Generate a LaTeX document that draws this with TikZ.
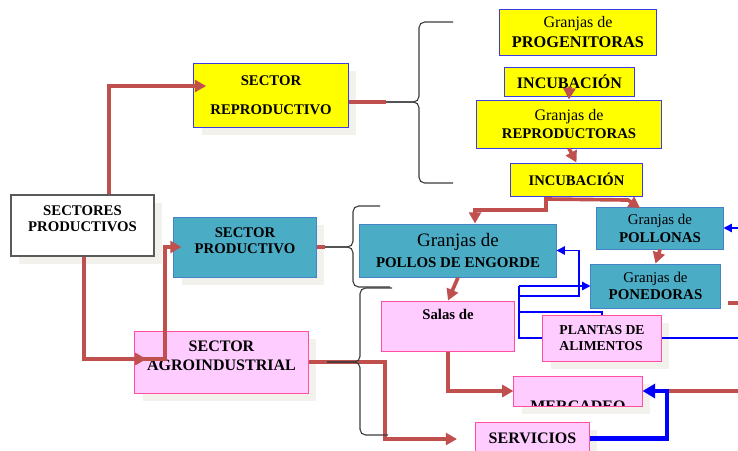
\documentclass[tikz,border=0pt]{standalone}
\usepackage{fontspec}
\setmainfont{Liberation Serif}
\usepackage{tikz}
\usepackage{tkz-euclide}
\usetikzlibrary{arrows.meta}
\usetikzlibrary{shadows}
\definecolor{accent}{RGB}{192,80,77}
\definecolor{wire}{RGB}{0,0,255}
\definecolor{yelfill}{RGB}{255,255,0}
\definecolor{yeledge}{RGB}{60,60,230}
\definecolor{tealfill}{RGB}{75,172,198}
\definecolor{tealedge}{RGB}{70,130,200}
\definecolor{pinkfill}{RGB}{255,204,255}
\definecolor{pinkedge}{RGB}{255,80,160}
\definecolor{shadowgrey}{RGB}{242,241,235}
\definecolor{bracegrey}{RGB}{60,60,60}
\definecolor{framegrey}{RGB}{90,90,90}

\begin{document}
\begin{tikzpicture}[x=0.025cm, y=-0.025cm,
  box/.style = {draw, line width=0.7pt, inner sep=0pt, align=center,
    font=\bfseries\fontsize{10.5}{12}\selectfont},
  yellowbox/.style = {box, fill=yelfill, draw=yeledge},
  tealbox/.style = {box, fill=tealfill, draw=tealedge},
  pinkbox/.style = {box, fill=pinkfill, draw=pinkedge},
  withshadow/.style = {drop shadow={shadow xshift=0.2cm, shadow yshift=-0.2cm,
    fill=shadowgrey, opacity=1}},
  line/.style = {line width=2.6pt, color=accent},
  wireline/.style = {line width=1.1pt, color=wire},
  wirearrow/.style = {wireline, -{Triangle[length=6pt, width=6pt]}},
  wirebold/.style = {line width=3.2pt, color=wire, -{Triangle[length=9pt, width=10pt]}},
  curly/.style = {line width=0.8pt, color=bracegrey, rounded corners=4pt},
  >={Triangle[length=8pt, width=8.5pt]},
]

  \useasboundingbox (0,0) rectangle (738,450);
  \clip (0,0) rectangle (738,450);

  % sectors
  \node[box, draw=framegrey, line width=1pt, fill=white, withshadow,
    minimum width=3.575cm, minimum height=1.525cm,
    text height=12.5pt, text depth=3.4pt] (sectores) at (82.5,225.5) {SECTORES\\PRODUCTIVOS};
  \node[yellowbox, withshadow, minimum width=3.85cm, minimum height=1.6cm,
    font=\bfseries\fontsize{10.5}{21}\selectfont] (repro) at (271,95) {SECTOR\\REPRODUCTIVO};
  \node[tealbox, withshadow, minimum width=3.55cm, minimum height=1.5cm,
    text height=13pt, text depth=3.2pt] (prod) at (245,247) {SECTOR\\PRODUCTIVO};
  \node[pinkbox, withshadow, minimum width=4.325cm, minimum height=1.55cm,
    text height=15pt, text depth=3.2pt,
    font=\bfseries\fontsize{11.4}{13.5}\selectfont] (agro) at (221.5,362) {SECTOR\\AGROINDUSTRIAL};

  % reproductive chain
  \node[yellowbox, minimum width=3.9cm, minimum height=1.15cm,
    font=\bfseries\fontsize{11.6}{14.2}\selectfont] (progen) at (578,32) {\textmd{\fontsize{11.4}{14}\selectfont Granjas de}\\PROGENITORAS};
  \node[yellowbox, minimum width=3.225cm, minimum height=0.725cm,
    font=\bfseries\fontsize{11.4}{13}\selectfont] (incubA) at (569.5,81.5) {INCUBACIÓN};
  \node[yellowbox, minimum width=4.6cm, minimum height=1.2cm,
    font=\bfseries\fontsize{10.5}{12.8}\selectfont] (reprod) at (569,124) {\textmd{\fontsize{11.4}{13}\selectfont Granjas de}\\REPRODUCTORAS};
  \node[yellowbox, minimum width=3.275cm, minimum height=0.825cm,
    font=\bfseries\fontsize{10.4}{12}\selectfont] (incubB) at (576.5,179.5) {INCUBACIÓN};

  % productive chain
  \node[tealbox, minimum width=4.9cm, minimum height=1.325cm,
    font=\bfseries\fontsize{10.6}{15}\selectfont] (engorde) at (458,250.5) {\textmd{\fontsize{13.5}{15}\selectfont Granjas de}\\POLLOS DE ENGORDE};
  \node[tealbox, minimum width=3.15cm, minimum height=1.05cm,
    font=\bfseries\fontsize{10.6}{12.8}\selectfont] (pollonas) at (660,228) {\textmd{Granjas de}\\POLLONAS};
  \node[tealbox, minimum width=3.225cm, minimum height=1.1cm,
    font=\bfseries\fontsize{10.6}{12.2}\selectfont] (ponedoras) at (655.5,286) {\textmd{Granjas de}\\PONEDORAS};

  % agroindustrial chain
  \node[pinkbox, minimum width=3.3cm, minimum height=1.25cm,
    text height=7pt, text depth=16pt] (salas) at (448,326) {Salas de};
  \node[pinkbox, withshadow, minimum width=2.95cm, minimum height=1.15cm, align=left,
    font=\bfseries\fontsize{9.7}{11.4}\selectfont] (plantas) at (602,338) {PLANTAS DE\\ALIMENTOS};
  \node[pinkbox, withshadow, minimum width=3.2cm, minimum height=0.75cm] (mercadeo) at (578,391) {};
  \node[pinkbox, withshadow, minimum width=2.825cm, minimum height=0.825cm,
    font=\bfseries\fontsize{11.4}{13}\selectfont] (servicios) at (532.5,438.5) {SERVICIOS};
  \begin{scope}
    \clip (mercadeo.north west) rectangle ([yshift=0.4pt]mercadeo.south east);
    \node[font=\bfseries\fontsize{11.4}{13}\selectfont] (mercadeoT) at (578,406.5) {MERCADEO};
  \end{scope}

  \tkzDefPoint(386,102){tipA}
  \tkzDefPoint(325,247){tipB}
  \tkzDefPoint(327,362){tipC}

  \tkzDefPoint(109,86){s1}
  \tkzDefPoint(84,359){s2}
  \tkzDefPoint(165,359){s3}

  \tkzDefPoint(385,362){a1}
  \tkzDefPoint(385,439){a2}
  \tkzDefPoint(457,439){a3}

  \tkzDefPoint(546,210){i1}
  \tkzDefPoint(475,210){i2}
  \tkzDefPoint(546,199){p1}
  \tkzDefPoint(628,200){p2}
  \tkzDefPoint(640,208){p3}

  \tkzDefPoint(728,303){e1}
  \tkzDefPoint(738,303){e2}
  \tkzDefPoint(667,391){m1}
  \tkzDefPoint(738,391){m2}

  \tkzDefPoint(738,228){w0}
  \tkzDefPoint(519,286){w1}
  \tkzDefPoint(519,296){w2}
  \tkzDefPoint(579,296){w3}
  \tkzDefPoint(519,312){w4}
  \tkzDefPoint(519,338){w5}
  \tkzDefPoint(738,338){w6}

  % red flows
  \draw[line, ->, shorten >=-9pt] (sectores.north -| s1) -- (s1) -- (s1 -| repro.west);
  \draw[line, ->, shorten >=-8.5pt] (sectores.south -| s2) -- (s2) -- (s2 -| agro.west);
  \draw[line, ->, shorten >=-5.7pt] (s2) -- (s3) -- (s3 |- prod.west) -- (prod.west);
  \draw[line] (tipA -| repro.east) -- (tipA);
  \draw[line] (tipB -| prod.east) -- (tipB);
  \draw[line, ->] (agro.east) -- (a1) -- (a2) -- (a3);

  \draw[line, ->] ([yshift=7pt]incubA.south) -- (reprod.north);
  \draw[line, ->] (reprod.south) -- (incubB.north);
  \draw[line, ->] (incubB.south -| i1) -- (i1) -- (i2) -- (i2 |- engorde.north);
  \draw[line, ->] (p1) -- (p2) -- (p3);
  \draw[line, ->] (pollonas.south) -- (ponedoras.north);
  \draw[line, ->] (engorde.south) -- (salas.north);
  \draw[line, ->] (salas.south) -- (salas.south |- mercadeo.west) -- (mercadeo.west);
  \draw[line] (e1) -- (e2);
  \draw[line] (m1) -- (m2);

  % blue flows
  \draw[wirearrow] (w0) -- (w0 -| pollonas.east);
  \draw[wireline] (w1) -- (w5) -- (plantas.west);
  \draw[wirearrow] (w1) -- (w1 -| ponedoras.west);
  \draw[wirearrow] (w2) -- (w3) -- (w3 |- engorde.east) -- (engorde.east);
  \draw[wireline] (w4) -- (w4 -| plantas.north) -- (plantas.north);
  \draw[wireline] (plantas.east) -- (w6);
  \draw[wirebold] (servicios.east) -- (servicios.east -| m1) -- (m1) -- (mercadeo.east);

  % braces
  \draw[curly] (453,22) -- (419,22) -- (419,102) -- (tipA);
  \draw[curly] (tipA) -- (419,102) -- (419,183) -- (453,183);
  \draw[curly] (380,206) -- (353,206) -- (353,247) -- (tipB);
  \draw[curly] (tipB) -- (353,247) -- (353,287) -- (390,287);
  \draw[curly] (392,288) -- (360,288) -- (360,362) -- (tipC);
  \draw[curly] (tipC) -- (360,362) -- (360,435) -- (388,435);

\end{tikzpicture}
\end{document}
